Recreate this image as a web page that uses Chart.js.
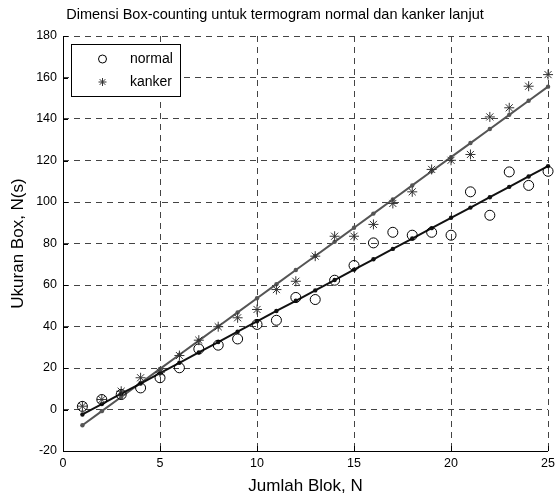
<!DOCTYPE html>
<html>
<head>
<meta charset="utf-8">
<script src="https://cdn.jsdelivr.net/npm/chart.js@4.4.1/dist/chart.umd.min.js"></script>
<style>
  html, body { margin: 0; padding: 0; background: #fff; }
  #wrap { width: 560px; height: 495px; }
</style>
</head>
<body>
<div id="wrap"><canvas id="chart" width="560" height="495"></canvas></div>
<script>
  // Jumlah blok N (x) and values
  var blok = [1, 2, 3, 4, 5, 6, 7, 8, 9, 10, 11, 12, 13, 14, 15, 16, 17, 18, 19, 20, 21, 22, 23, 24, 25];

  var normalData = [1.5, 4.8, 7.2, 10.4, 15.3, 20.1, 29.2, 31, 34, 41, 43, 54, 53, 62.3, 69.4,
    80.3, 85.4, 84, 85.4, 84, 104.9, 93.6, 114.5, 108, 114.8];
  var kankerData = [1.6, 4.8, 8.8, 15.3, 18, 26, 33.4, 39.9, 44.2, 48.2, 57.8, 61.8, 73.9, 83.5, 83.5,
    89.2, 99.3, 104.9, 115.7, 120.1, 122.9, 141, 145.4, 155.8, 161.4];

  // fitted lines (dots on the lines in the picture)
  var normalFit = [-2.4, 2.6, 7.6, 12.5, 17.5, 22.5, 27.5, 32.5, 37.5, 42.5, 47.5, 52.4, 57.4, 62.4, 67.4,
    72.4, 77.4, 82.4, 87.4, 92.4, 97.3, 102.3, 107.3, 112.3, 117.3];
  var kankerFit = [-7.6, -0.8, 6.0, 12.8, 19.6, 26.4, 33.2, 40.0, 46.8, 53.6, 60.4, 67.2, 74.0, 80.8, 87.6,
    94.4, 101.2, 108.0, 114.8, 121.6, 128.4, 135.2, 142.0, 148.8, 155.6];

  var FONT = 'Liberation Sans, Arial, Helvetica, sans-serif';

  function points(ys) {
    return blok.map(function (x, i) { return { x: x, y: ys[i] }; });
  }

  // MATLAB-like frame: solid left/bottom axes, inward ticks, legend box
  var framePlugin = {
    id: 'frame',
    afterDraw: function (chart) {
      var ctx = chart.ctx;
      var a = chart.chartArea;
      var xs = chart.scales.x, ys = chart.scales.y;
      ctx.save();
      ctx.strokeStyle = '#000';
      ctx.lineWidth = 1;
      ctx.setLineDash([]);
      ctx.beginPath();
      ctx.moveTo(a.left + 0.5, a.top);
      ctx.lineTo(a.left + 0.5, a.bottom + 0.5);
      ctx.lineTo(a.right, a.bottom + 0.5);
      ys.ticks.forEach(function (t) {
        var py = Math.round(ys.getPixelForValue(t.value)) + 0.5;
        ctx.moveTo(a.left, py);
        ctx.lineTo(a.left + 5, py);
      });
      xs.ticks.forEach(function (t) {
        var px = Math.round(xs.getPixelForValue(t.value)) + 0.5;
        ctx.moveTo(px, a.bottom);
        ctx.lineTo(px, a.bottom - 5);
      });
      ctx.stroke();

      // legend
      var bx = 71.5, by = 44.5, bw = 109, bh = 52;
      ctx.fillStyle = '#fff';
      ctx.fillRect(bx, by, bw, bh);
      ctx.strokeRect(bx, by, bw, bh);
      var items = [
        { label: 'normal', ds: chart.data.datasets[0], y: 59 },
        { label: 'kanker', ds: chart.data.datasets[1], y: 82 }
      ];
      ctx.font = '14px ' + FONT;
      ctx.textBaseline = 'middle';
      ctx.textAlign = 'left';
      items.forEach(function (it) {
        ctx.strokeStyle = it.ds.borderColor;
        ctx.fillStyle = 'rgba(0,0,0,0)';
        ctx.lineWidth = 1;
        Chart.helpers.drawPoint(ctx, {
          pointStyle: it.ds.pointStyle,
          radius: 4,
          borderWidth: 1
        }, 102.5, it.y);
        ctx.fillStyle = '#000';
        ctx.fillText(it.label, 130, it.y);
      });
      ctx.restore();
    }
  };

  new Chart(document.getElementById('chart'), {
    type: 'scatter',
    data: {
      datasets: [
        {
          label: 'normal',
          data: points(normalData),
          pointStyle: 'circle',
          pointRadius: 5,
          borderWidth: 1,
          borderColor: '#000',
          backgroundColor: 'rgba(0,0,0,0)',
          showLine: false,
          clip: false
        },
        {
          label: 'kanker',
          data: points(kankerData),
          pointStyle: 'star',
          pointRadius: 5,
          borderWidth: 1,
          borderColor: '#333',
          backgroundColor: 'rgba(0,0,0,0)',
          showLine: false,
          clip: false
        },
        {
          label: 'normal fit',
          data: points(normalFit),
          showLine: true,
          borderColor: '#111',
          backgroundColor: '#111',
          borderWidth: 2,
          pointRadius: 2.2,
          pointBorderWidth: 0,
          tension: 0,
          clip: false
        },
        {
          label: 'kanker fit',
          data: points(kankerFit),
          showLine: true,
          borderColor: '#555',
          backgroundColor: '#555',
          borderWidth: 2,
          pointRadius: 2.2,
          pointBorderWidth: 0,
          tension: 0,
          clip: false
        }
      ]
    },
    options: {
      responsive: false,
      animation: false,
      layout: { padding: { left: 0, right: 10, top: 0, bottom: 0 } },
      plugins: {
        legend: { display: false },
        tooltip: { enabled: false },
        title: {
          display: true,
          text: 'Dimensi Box-counting untuk termogram normal dan kanker lanjut',
          color: '#000',
          font: { family: FONT, size: 14.5, weight: 'normal', lineHeight: 1.2 },
          padding: { top: 6, bottom: 12.6 }
        }
      },
      scales: {
        x: {
          type: 'linear',
          min: 0,
          max: 25,
          afterFit: function (s) { s.height = 44; },
          ticks: {
            stepSize: 5,
            color: '#000',
            padding: 5,
            font: { family: FONT, size: 12.5 }
          },
          grid: {
            color: '#444',
            lineWidth: 1,
            drawTicks: false
          },
          border: { display: false, dash: [6, 5] },
          title: {
            display: true,
            text: 'Jumlah Blok, N',
            color: '#000',
            font: { family: FONT, size: 17, lineHeight: 1 },
            padding: { top: 0, bottom: 0 }
          }
        },
        y: {
          type: 'linear',
          min: -20,
          max: 180,
          afterFit: function (s) { s.width = 63; },
          ticks: {
            stepSize: 20,
            color: '#000',
            padding: 6,
            font: { family: FONT, size: 12.5 }
          },
          grid: {
            color: '#444',
            lineWidth: 1,
            drawTicks: false
          },
          border: { display: false, dash: [6, 5] },
          title: {
            display: true,
            text: 'Ukuran Box, N(s)',
            color: '#000',
            font: { family: FONT, size: 17, lineHeight: 1 },
            padding: { top: 10, bottom: 0 }
          }
        }
      }
    },
    plugins: [framePlugin]
  });
</script>
</body>
</html>
